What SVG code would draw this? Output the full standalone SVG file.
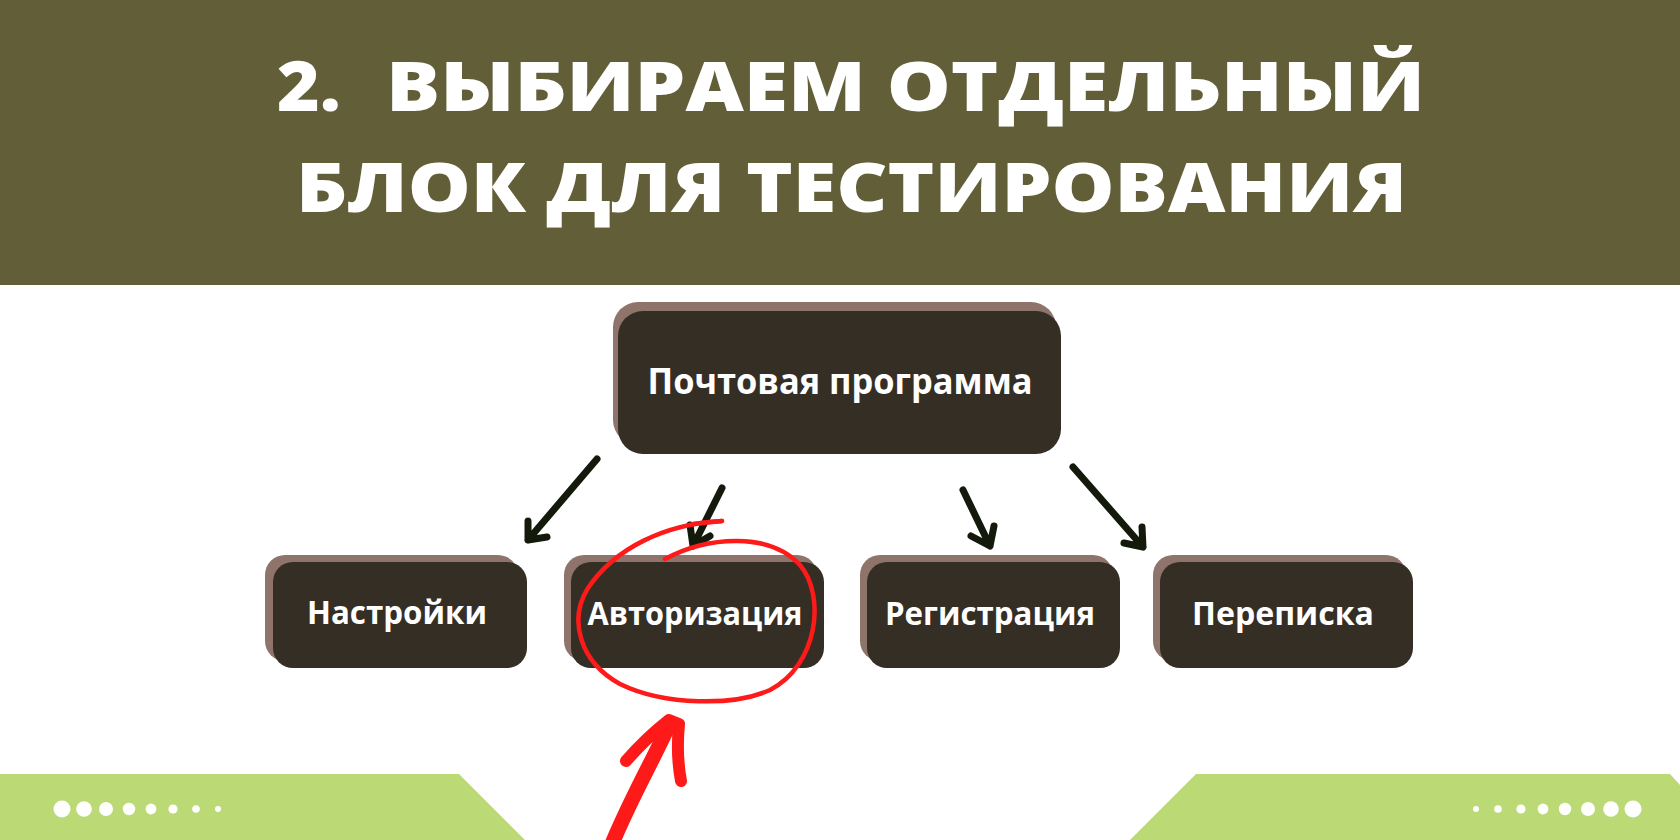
<svg xmlns="http://www.w3.org/2000/svg" width="1680" height="840" viewBox="0 0 1680 840">
<defs>
<style>
.title{font-family:"Open Sans","Liberation Sans",sans-serif;font-weight:800;font-size:69px;fill:#ffffff}
.shadow{fill:#8E746B}
.box{fill:#352E25}
.label{font-family:"Open Sans","Liberation Sans",sans-serif;font-weight:700;fill:#ffffff;text-anchor:middle}
.conn{stroke:#141A0B;stroke-width:7;fill:none;stroke-linecap:round;stroke-linejoin:round}
.green{fill:#BBD975}
.dot{fill:#ffffff}
.red{stroke:#FF1A1A;fill:none;stroke-linecap:round;stroke-linejoin:round}
</style>
</defs>
<rect width="1680" height="840" fill="#ffffff"/>
<g id="header">
<rect x="0" y="0" width="1680" height="285" fill="#625E37"/>
<text class="title" x="277" y="111" textLength="64" lengthAdjust="spacingAndGlyphs">2.</text>
<text class="title" x="386" y="111" textLength="1039" lengthAdjust="spacingAndGlyphs">ВЫБИРАЕМ ОТДЕЛЬНЫЙ</text>
<text class="title" x="296" y="212" textLength="1111" lengthAdjust="spacingAndGlyphs">БЛОК ДЛЯ ТЕСТИРОВАНИЯ</text>
</g>
<g id="footer">
<polygon class="green" points="0,774 459,774 525,840 0,840"/>
<polygon class="green" points="1196,774 1670,774 1680,785 1680,840 1130,840"/>
<circle class="dot" cx="62" cy="809" r="8.5"/>
<circle class="dot" cx="84" cy="809" r="7.8"/>
<circle class="dot" cx="106" cy="809" r="7"/>
<circle class="dot" cx="129" cy="809" r="6.2"/>
<circle class="dot" cx="151" cy="809" r="5.4"/>
<circle class="dot" cx="173" cy="809" r="4.6"/>
<circle class="dot" cx="196" cy="809" r="3.8"/>
<circle class="dot" cx="218" cy="809" r="3"/>
<circle class="dot" cx="1476" cy="809" r="3"/>
<circle class="dot" cx="1498" cy="809" r="3.8"/>
<circle class="dot" cx="1521" cy="809" r="4.6"/>
<circle class="dot" cx="1543" cy="809" r="5.4"/>
<circle class="dot" cx="1565" cy="809" r="6.2"/>
<circle class="dot" cx="1588" cy="809" r="7"/>
<circle class="dot" cx="1611" cy="809" r="7.8"/>
<circle class="dot" cx="1633" cy="809" r="8.5"/>
</g>
<g id="node-root">
<rect class="shadow" x="613" y="302" width="443" height="143" rx="25"/>
<rect class="box" x="618" y="311" width="443" height="143" rx="25"/>
<text class="label" x="840" y="394" font-size="35" textLength="385" lengthAdjust="spacingAndGlyphs">Почтовая программа</text>
</g>
<g id="node-settings">
<rect class="shadow" x="265" y="555" width="253" height="106" rx="20"/>
<rect class="box" x="273" y="562" width="254" height="106" rx="20"/>
<text class="label" x="397" y="624" font-size="32" textLength="180" lengthAdjust="spacingAndGlyphs">Настройки</text>
</g>
<g id="node-auth">
<rect class="shadow" x="564" y="555" width="253" height="106" rx="20"/>
<rect class="box" x="571" y="562" width="253" height="106" rx="20"/>
<text class="label" x="695" y="625" font-size="32" textLength="215" lengthAdjust="spacingAndGlyphs">Авторизация</text>
</g>
<g id="node-register">
<rect class="shadow" x="860" y="555" width="253" height="106" rx="20"/>
<rect class="box" x="867" y="562" width="253" height="106" rx="20"/>
<text class="label" x="990" y="625" font-size="32" textLength="210" lengthAdjust="spacingAndGlyphs">Регистрация</text>
</g>
<g id="node-chat">
<rect class="shadow" x="1153" y="555" width="253" height="106" rx="20"/>
<rect class="box" x="1160" y="562" width="253" height="106" rx="20"/>
<text class="label" x="1283" y="625" font-size="32" textLength="182" lengthAdjust="spacingAndGlyphs">Переписка</text>
</g>
<g id="connectors">
<path class="conn" d="M597 459 L528 540 M528 521 L528 540 L547 537"/>
<path class="conn" d="M722 488 L693 546 M690 525 L693 546 L710 536"/>
<path class="conn" d="M963 490 L990 546 M971 536 L990 546 L994 526"/>
<path class="conn" d="M1073 467 L1143 547 M1124 543 L1143 547 L1142 527"/>
</g>
<g id="annotation">
<path class="red" stroke-width="4.5" d="M665 559 C708 536 770 532 800 565 C826 596 818 665 770 690 C735 706 665 706 620 684 C580 662 568 620 588 588 C615 548 665 524 722 521"/>
<path class="red" stroke-width="4.5" d="M693 524 L722 521"/>
<path class="red" stroke-width="15" d="M612 844 C630 800 652 762 668 727"/>
<path class="red" stroke-width="12" d="M626 761 C640 745 655 731 669 720 L679 724 C677 745 678 765 681 781"/>
</g>
</svg>
